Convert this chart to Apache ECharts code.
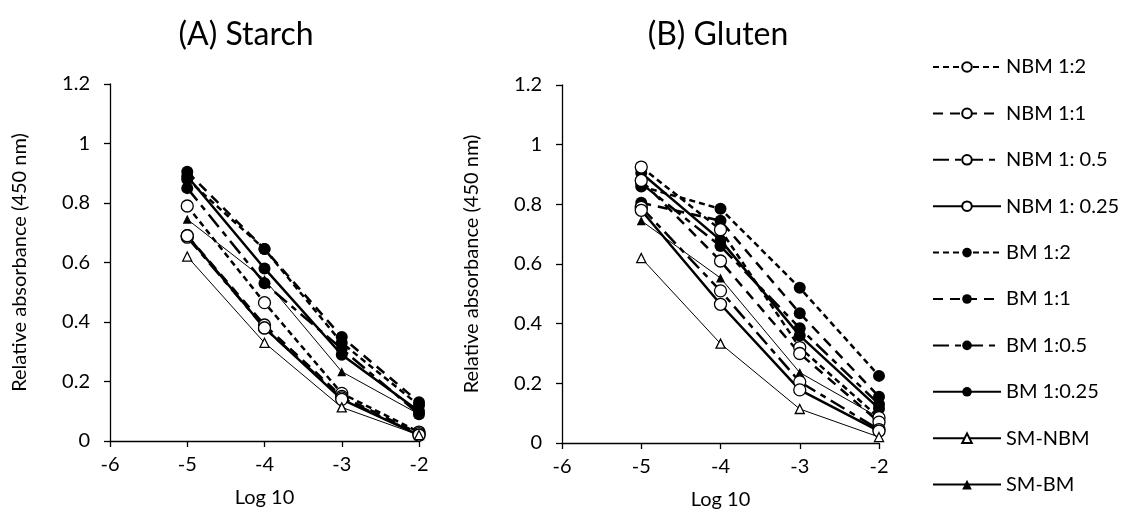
<!DOCTYPE html>
<html>
<head>
<meta charset="utf-8">
<script src="https://cdn.jsdelivr.net/npm/echarts@6/dist/echarts.min.js"></script>
<style>
  html, body { margin: 0; padding: 0; background: #fff; }
  #chart { width: 1124px; height: 523px; }
</style>
</head>
<body>
<div id="chart"></div>
<script>
// Dilution steps (log10) shared by both panels
const logDilution = [-5, -4, -3, -2];
const xTicks = [-6, -5, -4, -3, -2];
const yTicks = [0, 0.2, 0.4, 0.6, 0.8, 1, 1.2];

const seriesNames = ['NBM 1:2', 'NBM 1:1', 'NBM 1: 0.5', 'NBM 1: 0.25',
                     'BM 1:2', 'BM 1:1', 'BM 1:0.5', 'BM 1:0.25', 'SM-NBM', 'SM-BM'];

// (A) Starch — relative absorbance at 450 nm
const starchNBM12   = [0.79, 0.465, 0.16, 0.03];
const starchNBM11   = [0.69, 0.39, 0.15, 0.025];
const starchNBM105  = [0.685, 0.38, 0.145, 0.02];
const starchNBM1025 = [0.69, 0.38, 0.14, 0.02];
const starchBM12    = [0.88, 0.645, 0.33, 0.12];
const starchBM11    = [0.905, 0.645, 0.35, 0.13];
const starchBM105   = [0.85, 0.53, 0.31, 0.09];
const starchBM1025  = [0.89, 0.58, 0.29, 0.10];
const starchSMNBM   = [0.62, 0.33, 0.113, 0.02];
const starchSMBM    = [0.745, 0.543, 0.233, 0.09];

// (B) Gluten — relative absorbance at 450 nm
const glutenNBM12   = [0.925, 0.715, 0.32, 0.085];
const glutenNBM11   = [0.88, 0.61, 0.30, 0.07];
const glutenNBM105  = [0.79, 0.51, 0.205, 0.045];
const glutenNBM1025 = [0.78, 0.465, 0.178, 0.04];
const glutenBM12    = [0.86, 0.785, 0.52, 0.225];
const glutenBM11    = [0.805, 0.745, 0.435, 0.155];
const glutenBM105   = [0.87, 0.66, 0.385, 0.13];
const glutenBM1025  = [0.905, 0.68, 0.36, 0.115];
const glutenSMNBM   = [0.62, 0.333, 0.114, 0.02];
const glutenSMBM    = [0.745, 0.553, 0.236, 0.085];

const starchSets = [starchNBM12, starchNBM11, starchNBM105, starchNBM1025,
                    starchBM12, starchBM11, starchBM105, starchBM1025, starchSMNBM, starchSMBM];
const glutenSets = [glutenNBM12, glutenNBM11, glutenNBM105, glutenNBM1025,
                    glutenBM12, glutenBM11, glutenBM105, glutenBM1025, glutenSMNBM, glutenSMBM];

// Line / marker look for each treatment, in the order of seriesNames
const looks = [
  { dash: [6, 4],          open: true,  tri: false, width: 2.5 },
  { dash: [10, 7],         open: true,  tri: false, width: 2.5 },
  { dash: [16, 6, 6, 6],   open: true,  tri: false, width: 2.5 },
  { dash: 'solid',         open: true,  tri: false, width: 2.5 },
  { dash: [6, 4],          open: false, tri: false, width: 2.5 },
  { dash: [10, 7],         open: false, tri: false, width: 2.5 },
  { dash: [16, 6, 6, 6],   open: false, tri: false, width: 2.5 },
  { dash: 'solid',         open: false, tri: false, width: 2.5 },
  { dash: 'solid',         open: true,  tri: true,  width: 1 },
  { dash: 'solid',         open: false, tri: true,  width: 1 }
];

const FONT = 'Lato, "Open Sans", sans-serif';

function makeSeries(values, idx, panel) {
  const look = looks[idx];
  return {
    name: seriesNames[idx],
    type: 'line',
    xAxisIndex: panel,
    yAxisIndex: panel,
    data: logDilution.map((x, i) => [x, values[i]]),
    symbol: look.tri ? 'triangle' : 'circle',
    symbolSize: look.tri ? 9 : 12,
    showAllSymbol: true,
    itemStyle: {
      color: look.open ? '#ffffff' : '#000000',
      borderColor: '#000000',
      borderWidth: look.open ? 1.3 : 0
    },
    lineStyle: { color: '#000000', width: look.width, type: look.dash },
    emphasis: { disabled: true },
    z: look.open ? 3 : 2
  };
}

function axisPair(panel, title) {
  return [
    {
      type: 'value', gridIndex: panel, min: xTicks[0], max: xTicks[xTicks.length - 1], interval: 1,
      name: 'Log 10', nameLocation: 'middle', nameGap: 47,
      nameTextStyle: { fontFamily: FONT, fontSize: 20, color: '#000' },
      axisLine: { onZero: false, lineStyle: { color: '#000', width: 1.3 } },
      axisTick: { show: true, inside: false, length: 6, lineStyle: { color: '#000', width: 1.3 } },
      axisLabel: { fontFamily: FONT, fontSize: 20, color: '#000', margin: 14 },
      splitLine: { show: false }
    },
    {
      type: 'value', gridIndex: panel, min: yTicks[0], max: yTicks[yTicks.length - 1], interval: 0.2,
      name: title, nameLocation: 'middle', nameGap: 80, nameRotate: 90,
      nameTextStyle: { fontFamily: FONT, fontSize: 20, color: '#000' },
      axisLine: { show: true, onZero: false, lineStyle: { color: '#000', width: 1.3 } },
      axisTick: { show: true, inside: false, length: 6, lineStyle: { color: '#000', width: 1.3 } },
      axisLabel: { fontFamily: FONT, fontSize: 20, color: '#000', margin: 20 },
      splitLine: { show: false }
    }
  ];
}

const axesA = axisPair(0, 'Relative absorbance (450 nm)');
const axesB = axisPair(1, 'Relative absorbance (450 nm)');

const option = {
  animation: false,
  backgroundColor: '#ffffff',
  title: [
    { text: '(A) Starch', left: 241, top: 14, textAlign: 'center',
      textStyle: { fontFamily: FONT, fontSize: 32, fontWeight: 'normal', color: '#000' } },
    { text: '(B) Gluten', left: 713, top: 14, textAlign: 'center',
      textStyle: { fontFamily: FONT, fontSize: 32, fontWeight: 'normal', color: '#000' } }
  ],
  grid: [
    { left: 110, top: 84, width: 309, height: 357 },
    { left: 562, top: 85, width: 317, height: 358 }
  ],
  xAxis: [axesA[0], axesB[0]],
  yAxis: [axesA[1], axesB[1]],
  legend: {
    orient: 'vertical',
    left: 927,
    top: 50,
    itemWidth: 68,
    itemHeight: 12,
    itemGap: 22.4,
    data: seriesNames,
    textStyle: { fontFamily: FONT, fontSize: 20, color: '#000', lineHeight: 24 },
    selectedMode: false
  },
  series: [
    ...starchSets.map((v, i) => makeSeries(v, i, 0)),
    ...glutenSets.map((v, i) => makeSeries(v, i, 1))
  ]
};

const chart = echarts.init(document.getElementById('chart'), null, { renderer: 'canvas' });
chart.setOption(option);
</script>
</body>
</html>
